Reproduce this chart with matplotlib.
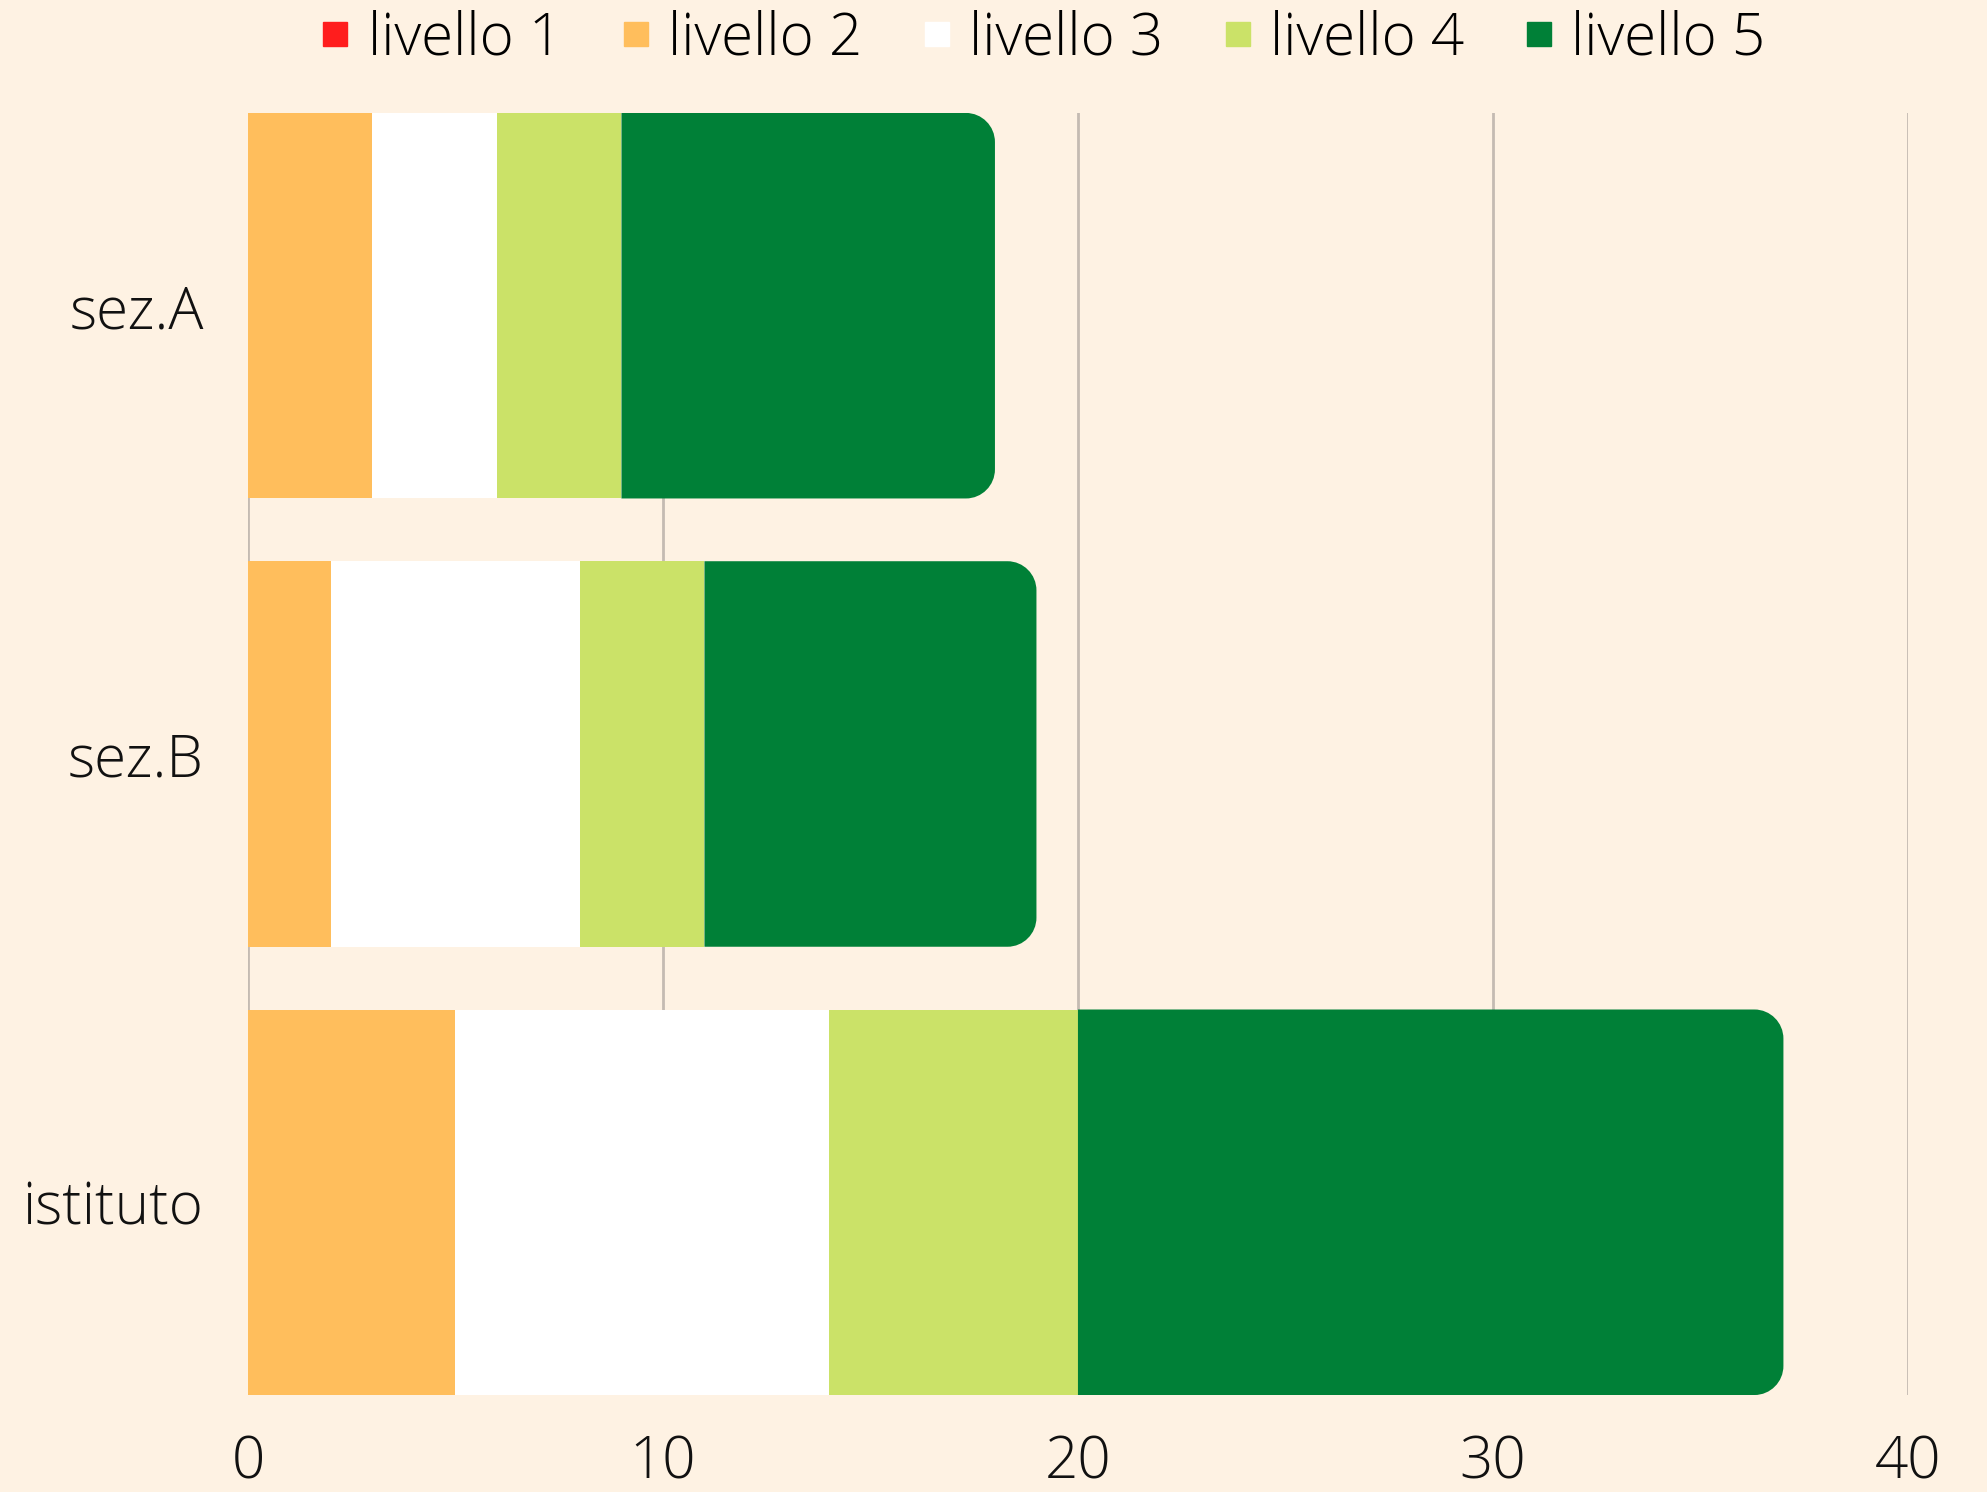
import matplotlib
matplotlib.use("Agg")
import matplotlib.pyplot as plt
from matplotlib.path import Path
from matplotlib.patches import PathPatch
from matplotlib.lines import Line2D

# dati
categorie = ["sez.A", "sez.B", "istituto"]
livelli = ["livello 1", "livello 2", "livello 3", "livello 4", "livello 5"]
liv1 = [0, 0, 0]
liv2 = [3, 2, 5]
liv3 = [3, 6, 9]
liv4 = [3, 3, 6]
liv5 = [9, 8, 17]
colori = ["#FF1D1D", "#FFBE5C", "#FFFFFF", "#CBE268", "#008037"]
xticks = [0, 10, 20, 30, 40]

sfondo = "#FEF2E3"
plt.rcParams['font.family'] = ['Open Sans', 'DejaVu Sans']

fig = plt.figure(figsize=(19.87, 14.92), dpi=100, facecolor=sfondo)
ax = fig.add_axes([0.1248, 0.065, 0.8354, 0.8593])
ax.set_facecolor(sfondo)

h = 0.86
ypos = list(range(len(categorie)))
serie = [liv1, liv2, liv3, liv4]
left = [0] * len(categorie)
for vals, col in zip(serie, colori[:4]):
    ax.barh(ypos, vals, left=left, height=h, color=col, linewidth=0, zorder=2)
    left = [a + b for a, b in zip(left, vals)]

# ultimo segmento con angoli arrotondati a destra
rx = 0.7    # raggio in unità x
ry = 0.065  # raggio in unità y
k = 0.5523
for y, l0, w in zip(ypos, left, liv5):
    x0, x1 = l0, l0 + w
    yt, yb = y - h / 2, y + h / 2
    verts = [(x0, yt), (x1 - rx, yt),
             (x1 - rx + k * rx, yt), (x1, yt + ry - k * ry), (x1, yt + ry),
             (x1, yb - ry),
             (x1, yb - ry + k * ry), (x1 - rx + k * rx, yb), (x1 - rx, yb),
             (x0, yb), (x0, yt)]
    codes = [Path.MOVETO, Path.LINETO,
             Path.CURVE4, Path.CURVE4, Path.CURVE4,
             Path.LINETO,
             Path.CURVE4, Path.CURVE4, Path.CURVE4,
             Path.LINETO, Path.CLOSEPOLY]
    ax.add_patch(PathPatch(Path(verts, codes), facecolor=colori[4], linewidth=0, zorder=2))

ax.set_xlim(0, 40)
ax.set_ylim(len(categorie) - 1 + h / 2, -h / 2)
ax.set_xticks(xticks)
ax.set_yticks(ypos)
ax.set_yticklabels(categorie)
ax.grid(axis='x', color='#C4BBB2', linewidth=2, zorder=0)
ax.set_axisbelow(True)
for s in ax.spines.values():
    s.set_visible(False)
ax.tick_params(length=0, labelsize=42, colors='#111111')
ax.tick_params(axis='x', pad=28)
ax.tick_params(axis='y', pad=32)
for t in ax.get_xticklabels() + ax.get_yticklabels():
    t.set_fontweight('light')

handles = [Line2D([], [], marker='s', linestyle='', markersize=17,
                  markerfacecolor=c, markeredgecolor=c) for c in colori]
leg = fig.legend(handles, livelli, loc='center', bbox_to_anchor=(0.525, 0.974),
                 ncol=5, frameon=False, handletextpad=0.3,
                 columnspacing=1.03, handlelength=0.5,
                 prop={'weight': 'light', 'size': 42})

fig.savefig("out.png", dpi=100, facecolor=sfondo)
